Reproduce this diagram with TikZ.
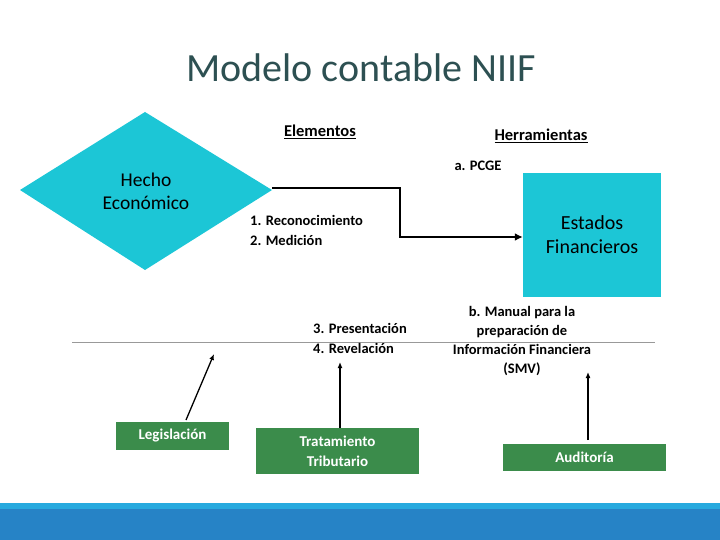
\documentclass[tikz,border=0pt]{standalone}
\usepackage{fontspec}
\setmainfont{Carlito}
\usetikzlibrary{shapes.geometric,arrows.meta}
\definecolor{cyanbox}{HTML}{1CC6D6}
\definecolor{greenbox}{HTML}{3B8C4B}
\definecolor{titlecol}{HTML}{2D5052}
\definecolor{bandlight}{HTML}{27AADF}
\definecolor{banddark}{HTML}{2683C6}
\tikzset{
  lbl/.style={font=\bfseries\fontsize{14.5}{20}\selectfont, text=black, inner sep=0pt},
  gbox/.style={fill=greenbox, text=white, font=\bfseries\fontsize{15}{20}\selectfont, align=center, inner sep=0pt},
  thinarrow/.style={-{Latex[length=6pt,width=5pt]}, line width=1.3pt},
}
\begin{document}
\begin{tikzpicture}[x=1pt,y=-1pt]
\useasboundingbox (0,0) rectangle (720,540);
% bottom band
\fill[bandlight] (0,503) rectangle (720,510);
\fill[banddark] (0,509) rectangle (720,540);
% title
\node[font=\fontsize{40}{44}\selectfont, text=titlecol] (title) at (361,68) {Modelo contable NIIF};
% diamond
\fill[cyanbox] (20,190) -- (145,112) -- (272,190) -- (145,270) -- cycle;
\coordinate (dright) at (272,188);
\node[font=\fontsize{19.5}{23}\selectfont, align=center] (hecho) at (146,191) {Hecho\\Económico};
% headers
\node[lbl, font=\bfseries\fontsize{16.5}{20}\selectfont] (elem) at (320,132) {\underline{Elementos}};
\node[lbl, font=\bfseries\fontsize{16.5}{20}\selectfont] (herr) at (541,136) {\underline{Herramientas}};
\node[lbl] (pcge) at (478,166) {a. PCGE};
% estados financieros
\node[fill=cyanbox, minimum width=138pt, minimum height=124pt, inner sep=0pt, align=center,
      font=\fontsize{20}{24}\selectfont] (ef) at (592,235) {Estados\\Financieros};
% main arrow
\draw[line width=2.8pt, -{Latex[length=8pt,width=8pt]}] (dright) -- (400,188) -- (400,237) -- (ef.west |- 0,237);
\node[lbl, align=left, anchor=west] (rm) at (250,230) {1. Reconocimiento\\2. Medición};
% gray line
\draw[gray!80, line width=0.8pt] (72,342) -- (655,342);
\node[lbl, align=left, anchor=west] (pr) at (313,338) {3. Presentación\\4. Revelación};
\node[lbl, align=center, font=\bfseries\fontsize{14.5}{19.3}\selectfont] (man) at (522,341) {b. Manual para la\\preparación de\\Información Financiera\\(SMV)};
% green boxes
\node[gbox, minimum width=113pt, minimum height=28pt] (leg) at (172.5,436) {Legislación};
\node[gbox, minimum width=163pt, minimum height=46pt] (trib) at (337.5,451) {Tratamiento\\Tributario};
\node[gbox, minimum width=163pt, minimum height=27pt] (aud) at (584.5,457) {Auditoría};
% arrows
\coordinate (la) at (214,354);
\coordinate (ta) at (340,362);
\coordinate (aa) at (588,372);
\draw[thinarrow] (186,420) -- (la);
\draw[thinarrow] (trib.north -| 340,0) -- (ta);
\draw[thinarrow] (588,440) -- (aa);
\end{tikzpicture}
\end{document}
